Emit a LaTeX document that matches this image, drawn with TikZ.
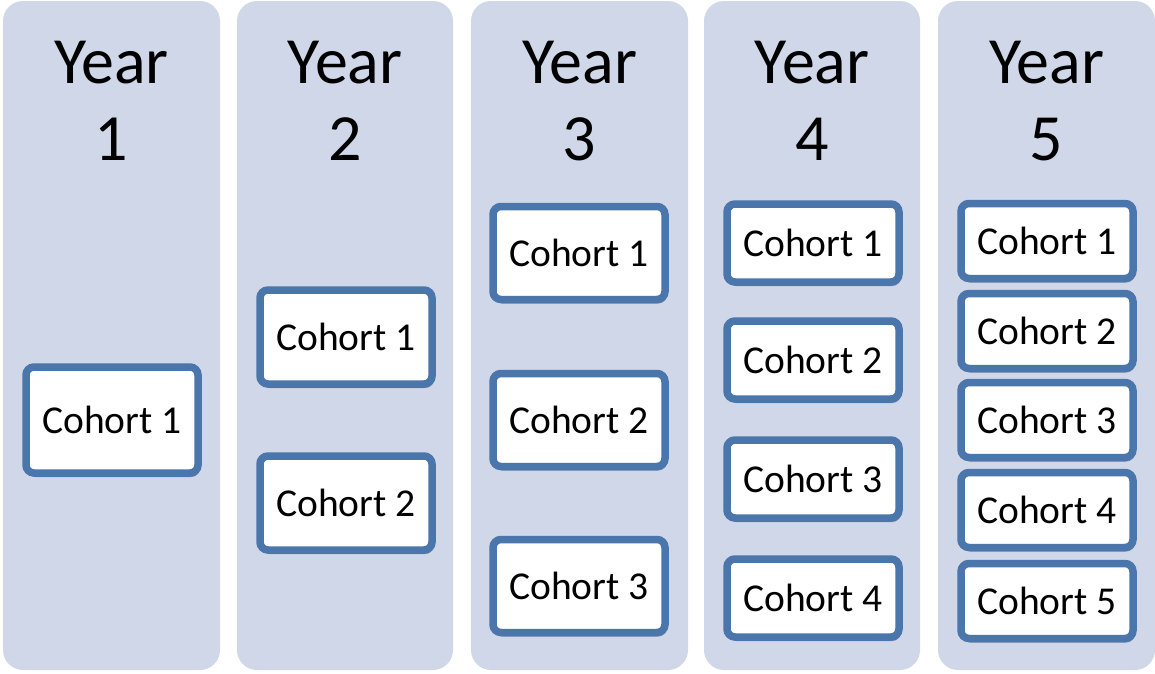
\documentclass[tikz,border=0pt]{standalone}
\usepackage{fontspec}
\setmainfont{Carlito}
\usepackage{xcolor}
\usepackage{tikz}
\usetikzlibrary{shadows}
\definecolor{colfill}{RGB}{207, 215, 232}
\definecolor{cohortblue}{RGB}{74, 118, 172}

\begin{document}
\begin{tikzpicture}[x=1pt, y=-1pt,
	column/.style={fill=colfill, rounded corners=20pt},
	yeartitle/.style={anchor=base, align=center, inner sep=0pt, font=\fontsize{66}{77}\selectfont},
	cohort/.style={draw=cohortblue, fill=white, line width=7.5pt, rounded corners=8pt,
		minimum width=172pt, font=\fontsize{39.5}{44}\selectfont,
		drop shadow={shadow xshift=1.5pt, shadow yshift=-4pt, opacity=0.3, fill=black}}
	]
	\useasboundingbox (0,0) rectangle (1155,673);
	
	% YEAR 1
	\fill[column] (3, 1) rectangle (220, 670);
	\node[yeartitle] (y1) at (111.5, 160) {Year\\1};
	\node[cohort, minimum height=106pt] (y1c1) at (112, 420) {Cohort 1};
	
	% YEAR 2
	\fill[column] (237, 1) rectangle (453, 670);
	\node[yeartitle] (y2) at (345, 160) {Year\\2};
	\node[cohort, minimum height=94pt] (y2c1) at (346, 337) {Cohort 1};
	\node[cohort, minimum height=94pt] (y2c2) at (346, 503) {Cohort 2};
	
	% YEAR 3
	\fill[column] (471, 1) rectangle (688, 670);
	\node[yeartitle] (y3) at (579.5, 160) {Year\\3};
	\node[cohort, minimum height=93pt] (y3c1) at (579, 253) {Cohort 1};
	\node[cohort, minimum height=93pt] (y3c2) at (579, 420) {Cohort 2};
	\node[cohort, minimum height=93pt] (y3c3) at (579, 586) {Cohort 3};
	
	% YEAR 4
	\fill[column] (704, 1) rectangle (920, 670);
	\node[yeartitle] (y4) at (812, 160) {Year\\4};
	\node[cohort, minimum height=78pt] (y4c1) at (813, 243) {Cohort 1};
	\node[cohort, minimum height=78pt] (y4c2) at (813, 360) {Cohort 2};
	\node[cohort, minimum height=78pt] (y4c3) at (813, 479) {Cohort 3};
	\node[cohort, minimum height=78pt] (y4c4) at (813, 598) {Cohort 4};
	
	% YEAR 5
	\fill[column] (938, 1) rectangle (1155, 670);
	\node[yeartitle] (y5) at (1046.5, 160) {Year\\5};
	\node[cohort, minimum height=75pt] (y5c1) at (1047, 241) {Cohort 1};
	\node[cohort, minimum height=75pt] (y5c2) at (1047, 331) {Cohort 2};
	\node[cohort, minimum height=75pt] (y5c3) at (1047, 420) {Cohort 3};
	\node[cohort, minimum height=75pt] (y5c4) at (1047, 510) {Cohort 4};
	\node[cohort, minimum height=75pt] (y5c5) at (1047, 601) {Cohort 5};
	
\end{tikzpicture}
\end{document}
